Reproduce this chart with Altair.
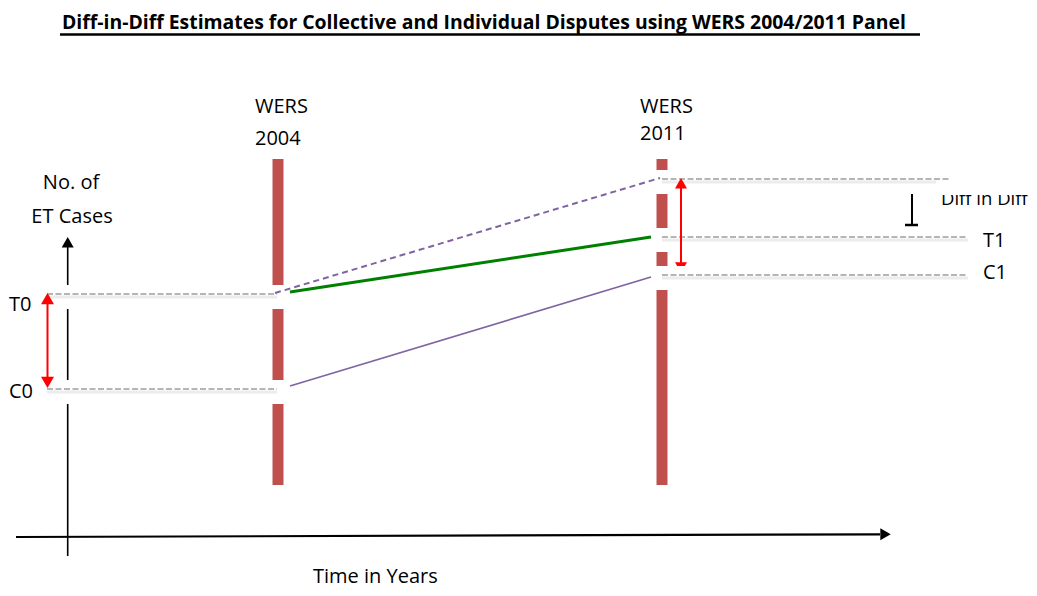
import altair as alt
import pandas as pd

W, H = 1021, 580
XD = [8, 8 + W]
YD = [8, 8 + H]
FONT = "Open Sans"

# ---- data ----
# survey-wave bars (WERS 2004, WERS 2011)
bar_x1 = [272.5, 656.5]
bar_x2 = [283.5, 667.5]
bar_top = [159, 159]
bar_bot = [485, 485]

# horizontal dashed reference levels: T0, C0, counterfactual, T1, C1
ref_name = ["T0", "C0", "CF", "T1", "C1"]
ref_y = [294, 389, 179, 237, 275]
ref_x1 = [47, 47, 662, 662, 662]
ref_x2 = [277, 277, 950, 968, 968]
halo_x1 = [38, 38, 650, 650, 650]
halo_x2 = [288, 288, 972, 972, 972]
halo_up = 9
halo_down = 15

# trend segments
trend_name = ["counterfactual", "treated", "control"]
trend_x1 = [275, 290, 290]
trend_y1 = [293, 292, 386]
trend_x2 = [660, 651, 651]
trend_y2 = [178, 237, 277]

# axes
yaxis_x = [67.7]
yaxis_top = [247]
yaxis_bot = [556]
xaxis_x1 = [16]
xaxis_y1 = [537]
xaxis_x2 = [880]
xaxis_y2 = [534.3]

# labels
lab_text = ["WERS", "2004", "WERS", "2011", "T0", "C0",
            "T1", "C1", "Time in Years"]
lab_x = [255, 255, 640, 640, 9, 9, 983, 983, 313]
lab_y = [113, 145, 113, 140, 311, 398, 247, 279, 583]
dd_text = ["Diff in Diff"]
dd_x = [941]
dd_y = [205]
ylab_text = ["No. of", "ET Cases"]
ylab_x = [71, 72]
ylab_y = [189, 223]
title_text = "Diff-in-Diff Estimates for Collective and Individual Disputes using WERS 2004/2011 Panel"

xs = alt.Scale(domain=XD, nice=False, zero=False)
ys = alt.Scale(domain=YD, nice=False, zero=False, reverse=True)


def X(f):
    return alt.X(f, type="quantitative", scale=xs, axis=None)


def Y(f):
    return alt.Y(f, type="quantitative", scale=ys, axis=None)


bars = pd.DataFrame({"x": bar_x1, "x2": bar_x2, "y": bar_top, "y2": bar_bot})
bar_layer = alt.Chart(bars).mark_rect(color="#c0504d").encode(
    x=X("x"), x2="x2", y=Y("y"), y2="y2")

ref = pd.DataFrame({"name": ref_name, "y": ref_y, "x1": ref_x1, "x2": ref_x2,
                    "hx1": halo_x1, "hx2": halo_x2})
ref["hy1"] = ref["y"] - halo_up
ref["hy2"] = ref["y"] + halo_down
ref["sy"] = ref["y"] + 3

# y axis
yax = pd.DataFrame({"x": yaxis_x, "y": yaxis_top, "y2": yaxis_bot})
yaxis_layer = alt.Chart(yax).mark_rule(color="black", strokeWidth=1.6).encode(
    x=X("x"), y=Y("y"), y2="y2")
xax = pd.DataFrame({"x": xaxis_x1, "y": xaxis_y1, "x2": xaxis_x2, "y2": xaxis_y2})
xaxis_layer = alt.Chart(xax).mark_rule(color="black", strokeWidth=2.2).encode(
    x=X("x"), y=Y("y"), x2="x2", y2="y2")

heads = pd.DataFrame({
    "x": [67.7, 885.5],
    "y": [242.2, 534.3],
    "shape": ["triangle-up", "triangle-right"],
})
axis_heads = alt.Chart(heads).mark_point(filled=True, color="black", opacity=1, size=144).encode(
    x=X("x"), y=Y("y"), shape=alt.Shape("shape:N", scale=None))

halo_layer = alt.Chart(ref).mark_rect(color="white").encode(
    x=X("hx1"), x2="hx2", y=Y("hy1"), y2="hy2")
shadow_layer = alt.Chart(ref).mark_rule(color="#ececec", strokeWidth=3).encode(
    x=X("x1"), x2="x2", y=Y("sy"))
dash_layer = alt.Chart(ref).mark_rule(color="#b5b5b5", strokeWidth=2, strokeDash=[6, 2.5]).encode(
    x=X("x1"), x2="x2", y=Y("y"))

tr = pd.DataFrame({"name": trend_name, "x": trend_x1, "y": trend_y1,
                   "x2": trend_x2, "y2": trend_y2})
cf_layer = alt.Chart(tr[tr.name == "counterfactual"]).mark_rule(
    color="#8064a2", strokeWidth=2, strokeDash=[6, 4]).encode(
    x=X("x"), y=Y("y"), x2="x2", y2="y2")
tr_layer = alt.Chart(tr[tr.name == "treated"]).mark_rule(
    color="#008000", strokeWidth=3).encode(
    x=X("x"), y=Y("y"), x2="x2", y2="y2")
ct_layer = alt.Chart(tr[tr.name == "control"]).mark_rule(
    color="#8064a2", strokeWidth=1.8).encode(
    x=X("x"), y=Y("y"), x2="x2", y2="y2")

# red double arrows: shafts and heads
shafts = pd.DataFrame({"x": [47.5, 681], "y": [297, 188], "y2": [384, 264]})
shaft_layer = alt.Chart(shafts).mark_rule(color="#ff0000", strokeWidth=2).encode(
    x=X("x"), y=Y("y"), y2="y2")
red_heads_top = pd.DataFrame({
    "x": [47.5, 47.5, 681],
    "y": [298.6, 382.4, 183.2],
    "shape": ["triangle-up", "triangle-down", "triangle-up"],
    "s": [169, 169, 144],
})
red_head_layer = alt.Chart(red_heads_top).mark_point(filled=True, color="#ff0000", opacity=1).encode(
    x=X("x"), y=Y("y"), shape=alt.Shape("shape:N", scale=None), size=alt.Size("s:Q", scale=None))
red_heads_low = pd.DataFrame({"x": [681], "y": [267.5], "shape": ["triangle-down"], "s": [144]})
red_low_layer = alt.Chart(red_heads_low).mark_point(filled=True, color="#ff0000", opacity=1).encode(
    x=X("x"), y=Y("y"), shape=alt.Shape("shape:N", scale=None), size=alt.Size("s:Q", scale=None))

# black diff-in-diff marker
dd_v = pd.DataFrame({"x": [912], "y": [194], "y2": [225]})
dd_v_layer = alt.Chart(dd_v).mark_rule(color="black", strokeWidth=2).encode(
    x=X("x"), y=Y("y"), y2="y2")
dd_h = pd.DataFrame({"x": [905], "x2": [918], "y": [225]})
dd_h_layer = alt.Chart(dd_h).mark_rule(color="black", strokeWidth=2.5).encode(
    x=X("x"), x2="x2", y=Y("y"))

labs = pd.DataFrame({"t": lab_text, "x": lab_x, "y": lab_y})
lab_layer = alt.Chart(labs).mark_text(font=FONT, fontSize=20, align="left",
                                      baseline="alphabetic", color="black").encode(
    x=X("x"), y=Y("y"), text="t:N")
ddl = pd.DataFrame({"t": dd_text, "x": dd_x, "y": dd_y})
dd_lab_layer = alt.Chart(ddl).mark_text(font=FONT, fontSize=18.5, align="left",
                                        baseline="alphabetic", color="black").encode(
    x=X("x"), y=Y("y"), text="t:N")
ylabs = pd.DataFrame({"t": ylab_text, "x": ylab_x, "y": ylab_y})
ylab_layer = alt.Chart(ylabs).mark_text(font=FONT, fontSize=20, align="center",
                                        baseline="alphabetic", color="black").encode(
    x=X("x"), y=Y("y"), text="t:N")

# clip top of "Diff in Diff" as in the source image
clip = pd.DataFrame({"x": [936], "x2": [1029], "y": [180], "y2": [195]})
clip_layer = alt.Chart(clip).mark_rect(color="white").encode(
    x=X("x"), x2="x2", y=Y("y"), y2="y2")

title = pd.DataFrame({"t": [title_text], "x": [62], "y": [29]})
title_layer = alt.Chart(title).mark_text(font=FONT, fontSize=19.4, fontWeight="bold",
                                         align="left", baseline="alphabetic",
                                         color="black").encode(
    x=X("x"), y=Y("y"), text="t:N")
ul = pd.DataFrame({"x": [60], "x2": [920], "y": [34.5]})
ul_layer = alt.Chart(ul).mark_rule(color="black", strokeWidth=2.5).encode(
    x=X("x"), x2="x2", y=Y("y"))

chart = alt.layer(
    bar_layer, yaxis_layer, xaxis_layer, axis_heads, red_low_layer,
    halo_layer, shadow_layer, dash_layer,
    cf_layer, tr_layer, ct_layer,
    shaft_layer, red_head_layer, dd_v_layer, dd_h_layer,
    lab_layer, dd_lab_layer, clip_layer, ylab_layer, title_layer, ul_layer,
).properties(
    width=W, height=H, padding=0, background="white",
    autosize=alt.AutoSizeParams(type="none"),
).configure_view(stroke=None)

chart.save("out.html", embed_options={"renderer": "svg", "actions": False})
